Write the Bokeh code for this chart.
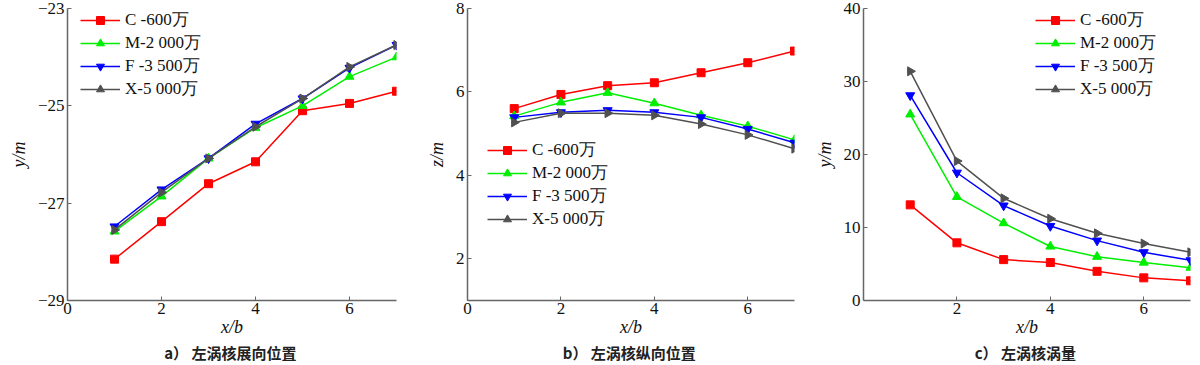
import numpy as np
from bokeh.plotting import figure
from bokeh.layouts import row
from bokeh.models import Range1d, FixedTicker, Title, Legend
from bokeh.embed import file_html
from bokeh.resources import INLINE

x = [1, 2, 3, 4, 5, 6, 7]
series_names = ["C -600万", "M-2 000万", "F -3 500万", "X-5 000万"]

a_C = [-28.15, -27.38, -26.60, -26.15, -25.10, -24.95, -24.70]
a_M = [-27.58, -26.86, -26.08, -25.45, -25.00, -24.40, -24.00]
a_F = [-27.48, -26.72, -26.08, -25.37, -24.85, -24.22, -23.75]
a_X = [-27.55, -26.78, -26.08, -25.43, -24.85, -24.20, -23.75]

b_C = [5.60, 5.94, 6.15, 6.22, 6.46, 6.70, 6.98]
b_M = [5.42, 5.75, 5.98, 5.73, 5.44, 5.18, 4.85]
b_F = [5.39, 5.51, 5.56, 5.51, 5.39, 5.11, 4.78]
b_X = [5.27, 5.49, 5.49, 5.44, 5.23, 4.97, 4.64]

c_C = [13.1, 7.9, 5.6, 5.2, 4.0, 3.1, 2.7]
c_M = [25.5, 14.2, 10.6, 7.4, 6.0, 5.2, 4.5]
c_F = [28.1, 17.5, 13.0, 10.2, 8.2, 6.6, 5.5]
c_X = [31.4, 19.1, 14.0, 11.2, 9.2, 7.8, 6.6]

a_yticks = [-29, -27, -25, -23]
b_yticks = [2, 4, 6, 8]
c_yticks = [0, 10, 20, 30, 40]

colors = ["#ff0000", "#00ee00", "#0000ff", "#505050"]
markers = ["square", "triangle", "inverted_triangle", "triangle"]
angles = [0, 0, 0, -np.pi / 2]
sizes = [8, 9, 9, 9]

SERIF = "Liberation Serif"
CJK = "Noto Sans CJK SC"

H = 364


def make_panel(width, bl, br, yrange, yticks, xticks, ylabel, caption, data, legend_loc):
    p = figure(width=width, height=H, output_backend="svg", toolbar_location=None,
               x_range=Range1d(0, 7), y_range=Range1d(*yrange),
               min_border_left=bl, min_border_right=br, min_border_top=8, min_border_bottom=64)
    p.outline_line_color = None
    p.grid.visible = False
    p.background_fill_color = None
    p.border_fill_color = None
    for ax in (p.xaxis[0], p.yaxis[0]):
        ax.axis_line_color = "#666666"
        ax.axis_line_width = 1.5
        ax.major_tick_line_color = "#666666"
        ax.major_tick_in = 4
        ax.major_tick_out = 0
        ax.minor_tick_line_color = None
        ax.major_label_text_font = SERIF
        ax.major_label_text_font_size = "17px"
        ax.major_label_text_color = "#111111"
        ax.axis_label_text_font = SERIF
        ax.axis_label_text_font_size = "18px"
        ax.axis_label_text_color = "#111111"
    p.xaxis.ticker = FixedTicker(ticks=xticks)
    p.yaxis.ticker = FixedTicker(ticks=yticks)
    p.xaxis.axis_label = "x/b"
    p.xaxis.axis_label_text_font_style = "italic"
    p.xaxis.axis_label_standoff = 0
    p.xaxis.major_label_standoff = 2
    p.yaxis.axis_label = ylabel
    p.yaxis.axis_label_text_font_style = "italic"
    p.yaxis.axis_label_standoff = 6
    p.yaxis.major_label_standoff = 3

    items = []
    for i, ys in enumerate(data):
        l = p.line(x, ys, line_color=colors[i], line_width=1.5)
        s = p.scatter(x, ys, marker=markers[i], angle=angles[i], size=sizes[i],
                      fill_color=colors[i], line_color=colors[i])
        items.append((series_names[i], [l, s]))
    leg = Legend(items=items, location=legend_loc)
    leg.label_text_font = SERIF
    leg.label_text_font_size = "17px"
    leg.label_text_line_height = 1.0
    leg.label_text_color = "#111111"
    leg.glyph_width = 40
    leg.glyph_height = 20
    leg.label_height = 20
    leg.spacing = 0
    leg.padding = 0
    leg.margin = 0
    leg.label_standoff = 5
    leg.border_line_color = None
    leg.background_fill_alpha = 0
    p.add_layout(leg)

    t = Title(text=caption, align="center", text_font=CJK, text_font_size="15px",
              text_font_style="bold", text_color="#222222", standoff=0, offset=-12)
    p.add_layout(t, "below")
    return p


p1 = make_panel(398, 67, 2, (-29, -23), a_yticks, [0, 2, 4, 6], "y/m",
                "a）  左涡核展向位置", [a_C, a_M, a_F, a_X], (13, 200))
p2 = make_panel(400, 69, 4, (1, 8), b_yticks, [0, 2, 4, 6], "z/m",
                "b）  左涡核纵向位置", [b_C, b_M, b_F, b_X], (20, 70))
p3 = make_panel(394, 65, 2, (0, 40), c_yticks, [2, 4, 6], "y/m",
                "c）  左涡核涡量", [c_C, c_M, c_F, c_X], (172, 200))

layout = row(p1, p2, p3)
open("out.html", "w").write(file_html(layout, INLINE))
